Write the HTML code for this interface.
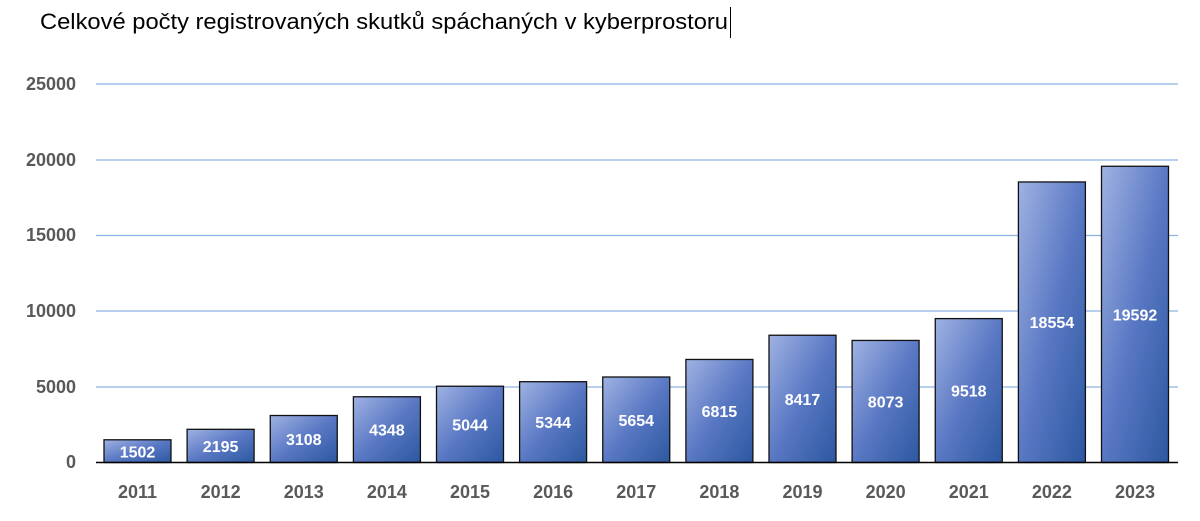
<!DOCTYPE html>
<html><head><meta charset="utf-8"><style>
html,body{margin:0;padding:0;background:#fff;width:1200px;height:521px;overflow:hidden}
</style></head><body>
<svg width="1200" height="521" xmlns="http://www.w3.org/2000/svg" font-family="Liberation Sans, sans-serif">
<defs>
<linearGradient id="g" x1="0" y1="0" x2="1" y2="1">
<stop offset="0" stop-color="#9fb2e2"/>
<stop offset="0.5" stop-color="#5a78c4"/>
<stop offset="1" stop-color="#2c58a0"/>
</linearGradient>
</defs>
<text x="40" y="29" font-size="22" fill="#000" textLength="688" lengthAdjust="spacingAndGlyphs">Celkové počty registrovaných skutků spáchaných v kyberprostoru</text>
<line x1="730.5" y1="7" x2="730.5" y2="38" stroke="#000" stroke-width="1"/>
<g stroke="#8db3e2" stroke-width="1.3">
<line x1="96" y1="84" x2="1178" y2="84"/>
<line x1="96" y1="160" x2="1178" y2="160"/>
<line x1="96" y1="235.5" x2="1178" y2="235.5"/>
<line x1="96" y1="311" x2="1178" y2="311"/>
<line x1="96" y1="387" x2="1178" y2="387"/>
</g>
<g font-size="18" font-weight="bold" fill="#595959" text-anchor="end">
<text x="76" y="90">25000</text>
<text x="76" y="166">20000</text>
<text x="76" y="241">15000</text>
<text x="76" y="317">10000</text>
<text x="76" y="393">5000</text>
<text x="76" y="468">0</text>
</g>
<g fill="url(#g)" stroke="#111" stroke-width="1.3">
<rect x="104" y="439.79" width="67" height="22.71"/>
<rect x="187.1" y="429.31" width="67" height="33.19"/>
<rect x="270.25" y="415.51" width="67" height="46.99"/>
<rect x="353.4" y="396.76" width="67" height="65.74"/>
<rect x="436.5" y="386.23" width="67" height="76.27"/>
<rect x="519.6" y="381.7" width="67" height="80.8"/>
<rect x="602.75" y="377.01" width="67" height="85.49"/>
<rect x="685.9" y="359.46" width="67" height="103.04"/>
<rect x="769" y="335.23" width="67" height="127.27"/>
<rect x="852.1" y="340.44" width="67" height="122.06"/>
<rect x="935.25" y="318.59" width="67" height="143.91"/>
<rect x="1018.4" y="181.96" width="67" height="280.54"/>
<rect x="1101.5" y="166.27" width="67" height="296.23"/>
</g>
<g font-size="16" font-weight="bold" fill="#fff" text-anchor="middle">
<text x="137.5" y="457.5">1502</text>
<text x="220.6" y="451.9">2195</text>
<text x="303.75" y="445">3108</text>
<text x="386.9" y="435.6">4348</text>
<text x="470" y="430.4">5044</text>
<text x="553.1" y="428.1">5344</text>
<text x="636.25" y="425.8">5654</text>
<text x="719.4" y="417">6815</text>
<text x="802.5" y="404.9">8417</text>
<text x="885.6" y="407.5">8073</text>
<text x="968.75" y="396.5">9518</text>
<text x="1051.9" y="328.2">18554</text>
<text x="1135" y="320.4">19592</text>
</g>
<g font-size="18" font-weight="bold" fill="#595959" text-anchor="middle">
<text x="137.5" y="498">2011</text>
<text x="220.6" y="498">2012</text>
<text x="303.75" y="498">2013</text>
<text x="386.9" y="498">2014</text>
<text x="470" y="498">2015</text>
<text x="553.1" y="498">2016</text>
<text x="636.25" y="498">2017</text>
<text x="719.4" y="498">2018</text>
<text x="802.5" y="498">2019</text>
<text x="885.6" y="498">2020</text>
<text x="968.75" y="498">2021</text>
<text x="1051.9" y="498">2022</text>
<text x="1135" y="498">2023</text>
</g>
<line x1="96" y1="462.5" x2="1178" y2="462.5" stroke="#000" stroke-width="1.5"/>
</svg>
</body></html>
